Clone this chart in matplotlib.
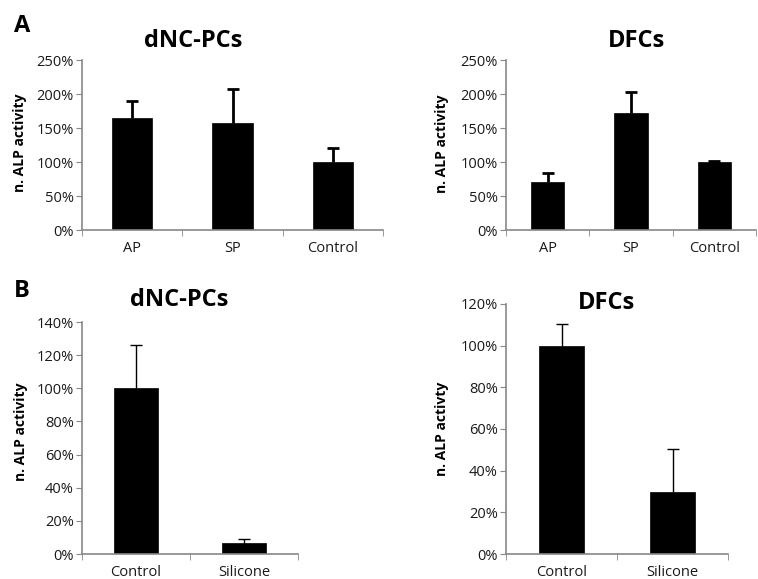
import matplotlib.pyplot as plt
from matplotlib.ticker import PercentFormatter, FixedLocator

plt.rcParams['font.family'] = ['Open Sans', 'DejaVu Sans']

# panel A: 2D substrates
a_cats = ['AP', 'SP', 'Control']
a_dnc = [165, 158, 100]
a_dnc_err = [25, 49, 20]
a_dfc = [71, 172, 100]
a_dfc_err = [13, 31, 1.5]

# panel B: silicone
b_cats = ['Control', 'Silicone']
b_dnc = [100, 6.5]
b_dnc_err = [26, 2.3]
b_dfc = [100, 30]
b_dfc_err = [10.5, 20.3]

W, H = 758, 579
fig = plt.figure(figsize=(W / 100, H / 100), dpi=100)


def px_axes(x0, x1, y0, y1):
    # pixel box (left, right, top, bottom) -> axes
    return fig.add_axes([x0 / W, 1 - y1 / H, (x1 - x0) / W, (y1 - y0) / H])


def bar_panel(ax, cats, vals, errs, ymax, step, elw, cap):
    x = range(len(cats))
    ax.bar(x, vals, width=0.4, color='black', edgecolor='black', linewidth=0.5, zorder=2)
    eb = ax.errorbar(x, vals, yerr=[[0] * len(vals), errs], fmt='none', ecolor='black',
                     elinewidth=elw, capsize=cap, capthick=elw, zorder=3)
    # only the upper cap, like the original
    eb[1][0].set_visible(False)
    ax.set_xlim(-0.5, len(cats) - 0.5)
    ax.set_ylim(0, ymax)
    ax.yaxis.set_major_locator(FixedLocator(range(0, ymax + 1, step)))
    ax.yaxis.set_major_formatter(PercentFormatter(decimals=0))
    ax.set_xticks(list(x))
    ax.set_xticklabels(cats)
    ax.set_xticks([i - 0.5 for i in range(len(cats) + 1)], minor=True)
    ax.tick_params(axis='x', which='major', length=0, pad=8, labelsize=10.5, labelcolor='#1a1a1a')
    ax.tick_params(axis='x', which='minor', length=4, color='#888888', direction='out')
    ax.tick_params(axis='y', length=4, color='#888888', direction='out', labelsize=10.5,
                   labelcolor='#1a1a1a', pad=2)
    for s in ['top', 'right']:
        ax.spines[s].set_visible(False)
    for s in ['left', 'bottom']:
        ax.spines[s].set_color('#888888')
        ax.spines[s].set_linewidth(1.2)


ax1 = px_axes(82, 383, 60, 230)
bar_panel(ax1, a_cats, a_dnc, a_dnc_err, 250, 50, 2, 4)
ax2 = px_axes(506, 756, 60, 230)
bar_panel(ax2, a_cats, a_dfc, a_dfc_err, 250, 50, 2, 4)
ax3 = px_axes(82, 298, 322, 554)
bar_panel(ax3, b_cats, b_dnc, b_dnc_err, 140, 20, 1, 4)
ax4 = px_axes(506, 728, 304, 554)
bar_panel(ax4, b_cats, b_dfc, b_dfc_err, 120, 20, 1, 4)


def ftext(x, y, s, **kw):
    fig.text(x / W, 1 - y / H, s, ha='center', va='center', **kw)


ftext(22, 26, 'A', fontsize=17, fontweight='bold')
ftext(22, 291, 'B', fontsize=17, fontweight='bold')
ftext(193, 41, 'dNC-PCs', fontsize=17, fontweight='bold')
ftext(636, 41, 'DFCs', fontsize=17, fontweight='bold')
ftext(179, 300, 'dNC-PCs', fontsize=17, fontweight='bold')
ftext(606, 303, 'DFCs', fontsize=17, fontweight='bold')
ftext(20, 143, 'n. ALP activity', fontsize=10, fontweight='bold', rotation=90)
ftext(442, 144, 'n. ALP activity', fontsize=10, fontweight='bold', rotation=90)
ftext(21, 432, 'n. ALP activity', fontsize=10, fontweight='bold', rotation=90)
ftext(442, 429, 'n. ALP activty', fontsize=10, fontweight='bold', rotation=90)

fig.savefig('out.png', dpi=100)
